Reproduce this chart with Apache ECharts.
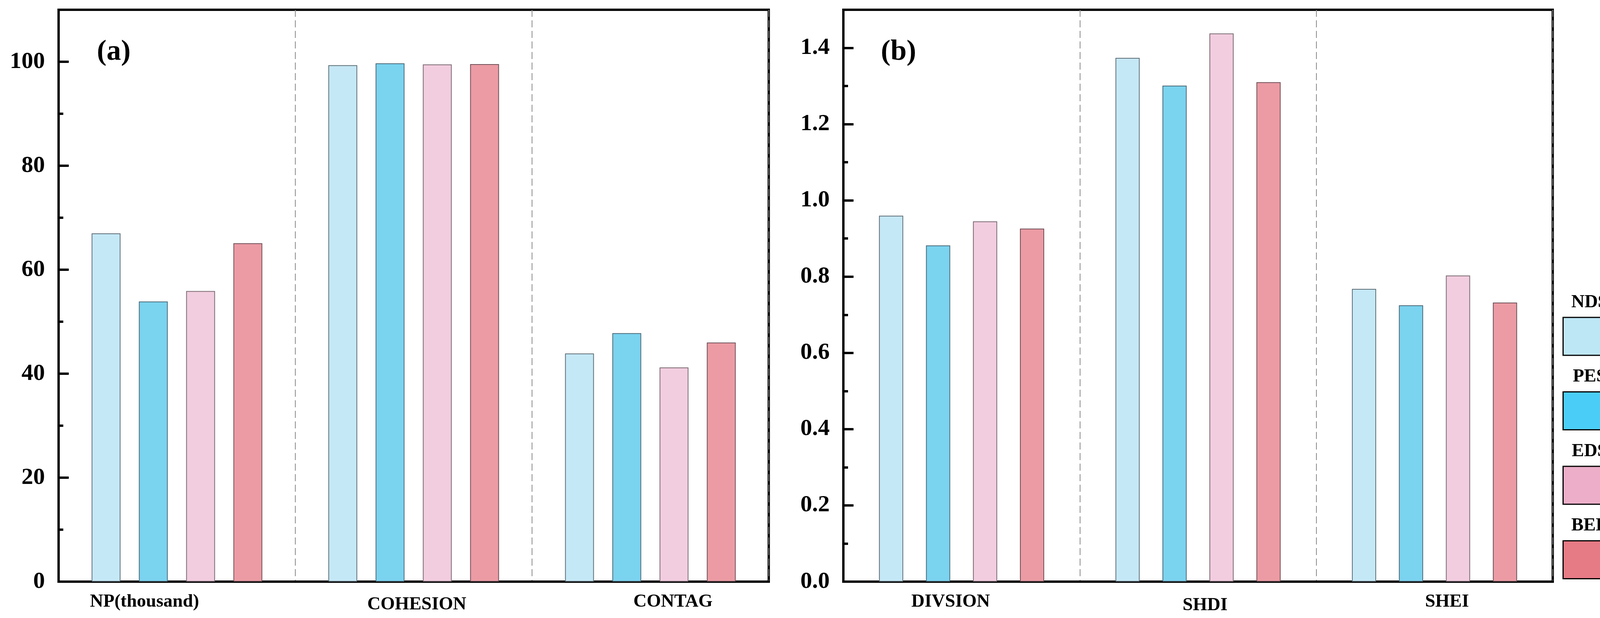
<!DOCTYPE html>
<html><head><meta charset="utf-8">
<script src="https://cdn.jsdelivr.net/npm/echarts@6/dist/echarts.min.js"></script>
<style>html,body{margin:0;padding:0;background:#fff;overflow:hidden}#c{width:4162px;height:1581px}</style>
</head><body><div id="c"></div>
<script>
// ---- data ----
const categoriesA = ['NP(thousand)', 'COHESION', 'CONTAG'];
const categoriesB = ['DIVSION', 'SHDI', 'SHEI'];
const seriesNames = ['NDS', 'PES', 'EDS', 'BEE'];
const ndsA = [67.0, 99.35, 43.9];
const pesA = [53.9, 99.7, 47.8];
const edsA = [55.9, 99.5, 41.2];
const beeA = [65.1, 99.55, 46.0];
const ndsB = [0.960, 1.374, 0.768];
const pesB = [0.882, 1.301, 0.725];
const edsB = [0.945, 1.438, 0.803];
const beeB = [0.926, 1.310, 0.732];
const panelLabels = ['(a)', '(b)'];

// ---- styles ----
const FONT = 'Liberation Serif';
const barColors = ['#C5E8F6', '#7AD3EF', '#F2CDDF', '#EC9BA4'];
const barBorders = ['#5E6E77', '#4C6A78', '#7A6A72', '#6E5058'];
const legendColors = ['#BEE7F6', '#4ACEF8', '#ECAEC9', '#E67A85'];
const labelShiftA = [[-83, 0], [8, 7], [58, 0]];
const labelShiftB = [[-28, 0], [18, 9], [32, 0]];

const dataA = [ndsA, pesA, edsA, beeA];
const dataB = [ndsB, pesB, edsB, beeB];

function catRich(shifts) {
  const rich = {};
  shifts.forEach((s, i) => {
    const dx = s[0], dy = s[1];
    rich['s' + i] = {
      fontFamily: FONT, fontWeight: 'bold', fontSize: 47, color: '#000',
      padding: [dy, dx < 0 ? -2 * dx : 0, 0, dx > 0 ? 2 * dx : 0]
    };
  });
  return rich;
}

function xAxisCfg(grid, cats, shifts) {
  return {
    type: 'category', gridIndex: grid, data: cats,
    axisLine: { show: true, lineStyle: { color: '#000', width: 6 } },
    axisTick: { show: false },
    splitLine: { show: true, interval: 0, lineStyle: { color: '#8a8a8a', width: 2, type: [18, 9] } },
    axisLabel: {
      margin: 28, interval: 0,
      formatter: (v, i) => '{s' + i + '|' + v + '}',
      rich: catRich(shifts)
    }
  };
}

function yMajor(grid, max, interval, fmt) {
  return {
    type: 'value', gridIndex: grid, position: 'left', min: 0, max: max, interval: interval,
    axisLine: { show: true, lineStyle: { color: '#000', width: 6 } },
    axisTick: { show: true, inside: true, length: 26, lineStyle: { color: '#000', width: 6 } },
    axisLabel: { show: true, margin: 35, showMaxLabel: false, fontFamily: FONT, fontWeight: 'bold', fontSize: 60, color: '#000', formatter: fmt },
    splitLine: { show: false }
  };
}
function yMinor(grid, max, interval) {
  return {
    type: 'value', gridIndex: grid, position: 'left', offset: 0, min: 0, max: max, interval: interval,
    axisLine: { show: false },
    axisTick: { show: true, inside: true, length: 12, lineStyle: { color: '#000', width: 6 } },
    axisLabel: { show: false },
    splitLine: { show: false }
  };
}

const series = [];
seriesNames.forEach((n, i) => {
  series.push({
    name: n, type: 'bar', xAxisIndex: 0, yAxisIndex: 0, data: dataA[i],
    barWidth: 74, barGap: '63.5%',
    itemStyle: { color: barColors[i], borderColor: barBorders[i], borderWidth: 2 }
  });
});
seriesNames.forEach((n, i) => {
  series.push({
    name: n, type: 'bar', xAxisIndex: 1, yAxisIndex: 2, data: dataB[i],
    barWidth: 62, barGap: '94%',
    itemStyle: { color: barColors[i], borderColor: barBorders[i], borderWidth: 2 }
  });
});

const legendRich = {
  t: { fontFamily: FONT, fontWeight: 'bold', fontSize: 47, color: '#000', width: 133, align: 'center', lineHeight: 80 }
};
seriesNames.forEach((n, i) => {
  legendRich['b' + n] = { width: 133, height: 94, backgroundColor: legendColors[i], borderColor: '#000', borderWidth: 3 };
});

const option = {
  backgroundColor: '#fff',
  animation: false,
  textStyle: { fontFamily: FONT },
  title: [
    { text: panelLabels[0], left: 248, top: 97, padding: 0, textStyle: { fontFamily: FONT, fontWeight: 'bold', fontSize: 74, color: '#000' } },
    { text: panelLabels[1], left: 2255, top: 97, padding: 0, textStyle: { fontFamily: FONT, fontWeight: 'bold', fontSize: 74, color: '#000' } }
  ],
  legend: {
    data: seriesNames, orient: 'vertical', left: 3998, top: 750, padding: 0,
    icon: 'none', itemWidth: 0, itemHeight: 0, itemGap: 30, selectedMode: false,
    formatter: n => '{t|' + n + '}\n{b' + n + '| }',
    textStyle: { rich: legendRich }
  },
  grid: [
    { left: 150, right: 2194, top: 25, bottom: 93, show: true, borderColor: '#000', borderWidth: 6, backgroundColor: '#fff' },
    { left: 2159, right: 187, top: 25, bottom: 93, show: true, borderColor: '#000', borderWidth: 6, backgroundColor: '#fff' }
  ],
  xAxis: [xAxisCfg(0, categoriesA, labelShiftA), xAxisCfg(1, categoriesB, labelShiftB)],
  yAxis: [
    yMajor(0, 110, 20, v => String(v)),
    yMinor(0, 110, 10),
    yMajor(1, 1.5, 0.2, v => v.toFixed(1)),
    yMinor(1, 1.5, 0.1)
  ],
  series: series
};
const chart = echarts.init(document.getElementById('c'));
chart.setOption(option);
</script></body></html>
